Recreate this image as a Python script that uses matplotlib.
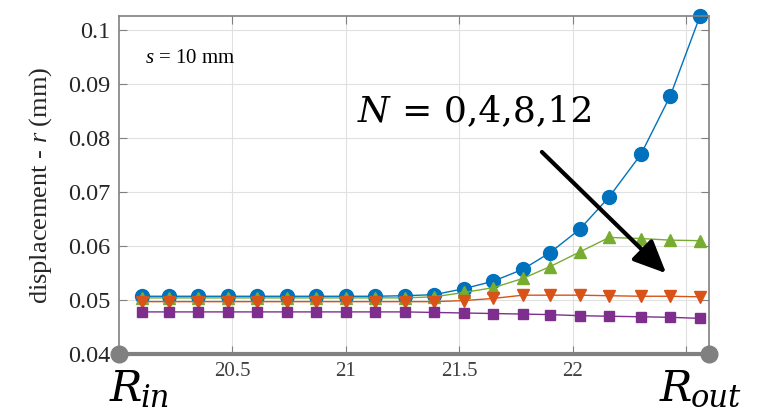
import matplotlib
matplotlib.use("Agg")
import matplotlib.pyplot as plt

# radial position (mm) of the sample points
radius = [20.10, 20.22, 20.35, 20.48, 20.61, 20.74, 20.87, 21.00, 21.13, 21.26,
          21.39, 21.52, 21.65, 21.78, 21.90, 22.03, 22.16, 22.30, 22.43, 22.56]

# displacement r (mm) for N = 0, 4, 8, 12
disp_n0 = [0.0507, 0.0507, 0.0507, 0.0507, 0.0507, 0.0507, 0.0507, 0.0507, 0.0507, 0.0508,
           0.0510, 0.0521, 0.0535, 0.0557, 0.0588, 0.0631, 0.0691, 0.0770, 0.0879, 0.1026]
disp_n4 = [0.0504, 0.0504, 0.0504, 0.0504, 0.0504, 0.0504, 0.0504, 0.0504, 0.0504, 0.0504,
           0.0506, 0.0514, 0.0523, 0.0540, 0.0562, 0.0589, 0.0616, 0.0614, 0.0611, 0.0610]
disp_n8 = [0.0497, 0.0497, 0.0497, 0.0497, 0.0497, 0.0497, 0.0497, 0.0497, 0.0497, 0.0497,
           0.0497, 0.0499, 0.0503, 0.0509, 0.0509, 0.0509, 0.0508, 0.0507, 0.0507, 0.0506]
disp_n12 = [0.0478, 0.0478, 0.0478, 0.0478, 0.0478, 0.0478, 0.0478, 0.0478, 0.0478, 0.0478,
            0.0477, 0.0476, 0.0475, 0.0474, 0.0473, 0.0471, 0.0470, 0.0469, 0.0468, 0.0466]

x_ticks = [20.5, 21, 21.5, 22, 22.5]
x_labels = ["20.5", "21", "21.5", "22", ""]
y_ticks = [0.04, 0.05, 0.06, 0.07, 0.08, 0.09, 0.1]
y_labels = ["0.04", "0.05", "0.06", "0.07", "0.08", "0.09", "0.1"]

plt.rcParams["font.family"] = ["Liberation Serif", "DejaVu Serif"]
plt.rcParams["mathtext.fontset"] = "custom"
plt.rcParams["mathtext.rm"] = "Liberation Serif"
plt.rcParams["mathtext.it"] = "Liberation Serif:italic"

fig = plt.figure(figsize=(7.57, 4.15), dpi=100)
ax = fig.add_axes([0.157, 0.147, 0.7796, 0.8152])

ax.plot(radius, disp_n0, color="#0072BD", lw=1, marker="o", ms=10, clip_on=False)
ax.plot(radius, disp_n4, color="#77AC30", lw=1, marker="^", ms=9, clip_on=False)
ax.plot(radius, disp_n8, color="#D95319", lw=1, marker="v", ms=9, clip_on=False)
ax.plot(radius, disp_n12, color="#7E2F8E", lw=1, marker="s", ms=7.5, clip_on=False)

ax.set_xlim(20.0, 22.6)
ax.set_ylim(0.04, 0.1027)
ax.set_xticks(x_ticks)
ax.set_xticklabels(x_labels, fontsize=15, color="#404040")
ax.set_yticks(y_ticks)
ax.set_yticklabels(y_labels, fontsize=17.5, color="#262626")
ax.tick_params(direction="in", length=6, top=True, right=True, color="#808080", pad=6)
ax.grid(True, color="#e0e0e0", lw=0.8)
ax.set_axisbelow(True)

for side in ["left", "top", "right"]:
    ax.spines[side].set_color("#808080")
    ax.spines[side].set_linewidth(1.2)
ax.spines["bottom"].set_color("#808080")
ax.spines["bottom"].set_linewidth(3)

# gray end dots at the inner and outer radius
ax.plot([20.0, 22.6], [0.04, 0.04], ls="none", marker="o", ms=12, color="#808080", clip_on=False, zorder=5)

ax.set_ylabel("displacement - $r$ (mm)", fontsize=19, color="#262626", labelpad=10)

ax.text(0.045, 0.86, "$s$ = 10 mm", transform=ax.transAxes, fontsize=15)
ax.text(0.405, 0.688, "N", transform=ax.transAxes, fontfamily="DejaVu Serif", style="italic", fontsize=26)
ax.text(0.48, 0.688, "= 0,4,8,12", transform=ax.transAxes, fontfamily="DejaVu Serif", fontsize=26)

ax.annotate("", xy=(22.42, 0.0546), xytext=(21.855, 0.0778),
            arrowprops=dict(arrowstyle="-|>,head_length=2.0,head_width=0.9", color="black", lw=3))

# radius end labels
fig.text(0.145, 0.034, "R", fontsize=31, fontfamily="DejaVu Serif", style="italic")
fig.text(0.185, 0.02, "in", fontsize=22, fontfamily="DejaVu Serif", style="italic")
fig.text(0.872, 0.034, "R", fontsize=31, fontfamily="DejaVu Serif", style="italic")
fig.text(0.912, 0.02, "out", fontsize=22, fontfamily="DejaVu Serif", style="italic")

fig.savefig("out.png", dpi=100)
